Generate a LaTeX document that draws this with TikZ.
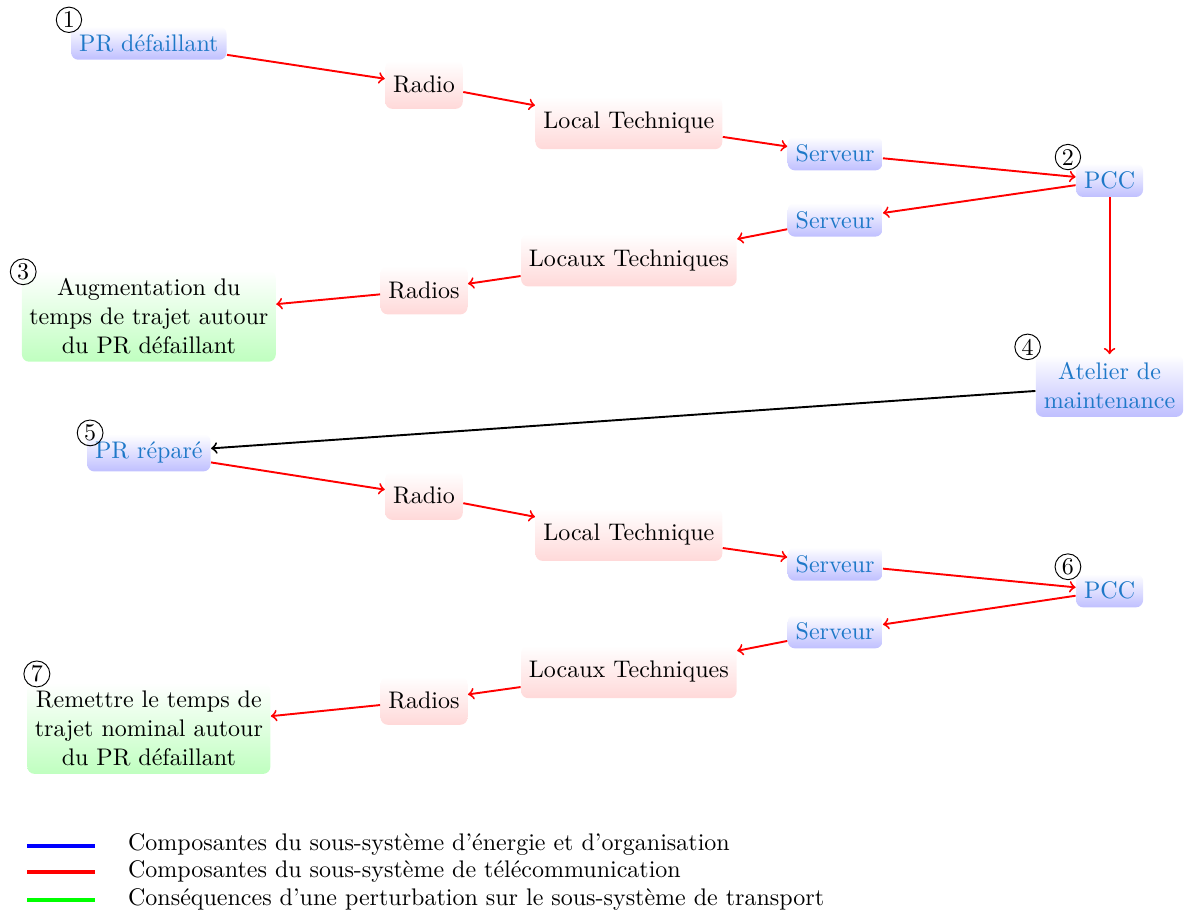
\documentclass[tikz,border=0pt]{standalone}
\usepackage{tikz}
\usetikzlibrary{positioning}
\definecolor{orgtext}{RGB}{30,120,200}
\tikzset{
  org/.style={rounded corners=3pt, top color=white, bottom color=blue!25, text=orgtext, align=center},
  tel/.style={rounded corners=3pt, top color=white, bottom color=red!15, inner xsep=3.3pt, inner ysep=6.5pt},
  cons/.style={rounded corners=3pt, top color=white, bottom color=green!25, align=center, inner xsep=3.1pt, inner ysep=3.3pt},
  num/.style={circle, draw, inner sep=0.8pt},
  telarrow/.style={->, thick, red},
}
\begin{document}
\begin{tikzpicture}
\useasboundingbox (0,0) rectangle (17.34,-13.38);

% panne
\node[org] (prA) at (2.18,-0.63) {PR défaillant};
\node[tel] (radioA) at (6.21,-1.24) {Radio};
\node[tel] (localA) at (9.21,-1.80) {Local Technique};
\node[org] (servA) at (12.23,-2.25) {Serveur};
\node[org] (pccA) at (16.25,-2.64) {PCC};
\node[org] (servB) at (12.23,-3.22) {Serveur};
\node[tel] (locauxA) at (9.21,-3.81) {Locaux Techniques};
\node[tel] (radiosA) at (6.21,-4.25) {Radios};
\node[cons] (consA) at (2.18,-4.63) {Augmentation du\\temps de trajet autour\\du PR défaillant};
\node[org] (atelier) at (16.25,-5.65) {Atelier de\\maintenance};

% reparation
\node[org] (prB) at (2.18,-6.63) {PR réparé};
\node[tel] (radioB) at (6.21,-7.26) {Radio};
\node[tel] (localB) at (9.21,-7.83) {Local Technique};
\node[org] (servC) at (12.23,-8.26) {Serveur};
\node[org] (pccB) at (16.25,-8.65) {PCC};
\node[org] (servD) at (12.23,-9.25) {Serveur};
\node[tel] (locauxB) at (9.21,-9.84) {Locaux Techniques};
\node[tel] (radiosB) at (6.21,-10.26) {Radios};
\node[cons] (consB) at (2.18,-10.67) {Remettre le temps de\\trajet nominal autour\\du PR défaillant};

% numeros
\node[num] (n1) at (1.01,-0.29) {1};
\node[num] (n2) at (15.64,-2.30) {2};
\node[num] (n3) at (0.34,-3.98) {3};
\node[num] (n4) at (15.05,-5.08) {4};
\node[num] (n5) at (1.32,-6.34) {5};
\node[num] (n6) at (15.64,-8.30) {6};
\node[num] (n7) at (0.54,-9.87) {7};

\foreach \s/\t in {prA/radioA, radioA/localA, localA/servA, servA/pccA, pccA/servB,
                   servB/locauxA, locauxA/radiosA, radiosA/consA, pccA/atelier,
                   prB/radioB, radioB/localB, localB/servC, servC/pccB, pccB/servD,
                   servD/locauxB, locauxB/radiosB, radiosB/consB}
  \draw[telarrow] (\s) -- (\t);
\draw[->, thick] (atelier) -- (prB);

% legende
\draw[ultra thick, blue] (0.40,-12.39) -- (1.39,-12.39);
\draw[ultra thick, red] (0.40,-12.77) -- (1.39,-12.77);
\draw[ultra thick, green] (0.40,-13.18) -- (1.39,-13.18);
\node[anchor=west, inner sep=0pt] (legA) at (1.87,-12.37) {Composantes du sous-système d'énergie et d'organisation};
\node[anchor=west, inner sep=0pt] (legB) at (1.87,-12.77) {Composantes du sous-système de télécommunication};
\node[anchor=west, inner sep=0pt] (legC) at (1.87,-13.17) {Conséquences d'une perturbation sur le sous-système de transport};
\end{tikzpicture}
\end{document}
